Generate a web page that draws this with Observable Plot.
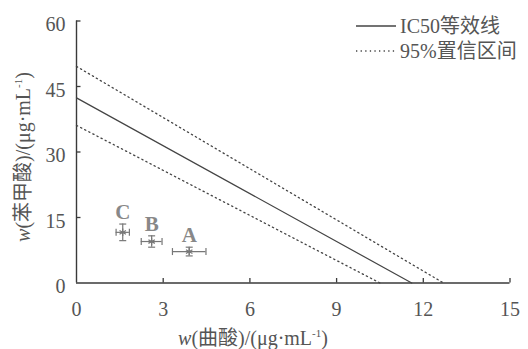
<!DOCTYPE html>
<html>
<head>
<meta charset="utf-8">
<script src="https://cdn.jsdelivr.net/npm/d3@7"></script>
<script src="https://cdn.jsdelivr.net/npm/@observablehq/plot@0.6"></script>
<style>
  html, body { margin: 0; padding: 0; background: #fff; }
  #wrap { position: relative; width: 528px; height: 349px; overflow: hidden;
          font-family: "Liberation Serif", "Times New Roman", Tinos, "DejaVu Serif", "Noto Sans CJK SC", serif; color: #555; }
  .ov { position: absolute; white-space: nowrap; font-size: 20px; line-height: 1; }
  .ov sup { font-size: 0.55em; vertical-align: 0.7em; line-height: 0; }
  #ytitle { left: 23px; top: 157px; transform: translate(-50%, -50%) rotate(-90deg); }
  #xtitle { left: 253px; top: 338px; transform: translate(-50%, -50%); }
  #legend { left: 356px; top: 13px; font-size: 20px; }
  #legend .row { display: flex; align-items: center; height: 25px; }
  #legend svg { margin-right: 4px; }
</style>
</head>
<body>
<div id="wrap">
  <div id="chart"></div>
  <div class="ov" id="ytitle"><i>w</i>(苯甲酸)/(μg·mL<sup>-1</sup>)</div>
  <div class="ov" id="xtitle"><i>w</i>(曲酸)/(μg·mL<sup>-1</sup>)</div>
  <div class="ov" id="legend"></div>
</div>
<script>
// ---- data ----
const lineNames = ["IC50等效线", "95%置信区间", "95%置信区间"];
const lineKind = ["solid", "dotted", "dotted"];
const yIntercepts = [42.4, 49.6, 36.1];   // w(苯甲酸) alone
const xIntercepts = [11.6, 12.7, 10.5];   // w(曲酸) alone

const comboLabels = ["A", "B", "C"];
const comboX = [3.9, 2.6, 1.6];
const comboXErr = [0.58, 0.36, 0.23];
const comboY = [7.2, 9.5, 11.6];
const comboYErr = [1.0, 1.3, 1.9];

const xTicks = [0, 3, 6, 9, 12, 15];
const yTicks = [0, 15, 30, 45, 60];

// ---- derived tables ----
const lines = [];
lineNames.forEach((n, i) => {
  lines.push({id: i, kind: lineKind[i], x: 0, y: yIntercepts[i]});
  lines.push({id: i, kind: lineKind[i], x: xIntercepts[i], y: 0});
});
const combos = comboLabels.map((l, i) => ({
  label: l, x: comboX[i], y: comboY[i],
  x1: comboX[i] - comboXErr[i], x2: comboX[i] + comboXErr[i],
  y1: comboY[i] - comboYErr[i], y2: comboY[i] + comboYErr[i]
}));

const W = 528, H = 349;
const mL = 76, mR = 18.5, mT = 20.5, mB = 66.5;
const tickLen = 4.5;

const rad = (size) => Math.sqrt(size / Math.PI);
const vCap = {draw(ctx, size) { const r = rad(size); ctx.moveTo(0, -r); ctx.lineTo(0, r); }};
const hCap = {draw(ctx, size) { const r = rad(size); ctx.moveTo(-r, 0); ctx.lineTo(r, 0); }};

const axisColor = "#3a3a3a";
const ptColor = "#777";
const fontStack = '"Liberation Serif", "Times New Roman", Tinos, "DejaVu Serif", "Noto Sans CJK SC", serif';

const chart = Plot.plot({
  width: W, height: H,
  marginLeft: mL, marginRight: mR, marginTop: mT, marginBottom: mB,
  x: {domain: [0, 15]},
  y: {domain: [0, 60]},
  style: {fontFamily: fontStack, fontSize: "20px", color: "#555", background: "transparent"},
  marks: [
    Plot.axisX(xTicks, {tickSize: 0, tickPadding: 19, label: null, fontSize: 20, fill: "#555", fontFamily: fontStack}),
    Plot.axisY(yTicks, {tickSize: 0, tickPadding: 11, dy: 4, label: null, fontSize: 20, fill: "#555", fontFamily: fontStack}),
    Plot.ruleY([0], {stroke: axisColor, strokeWidth: 1.4}),
    Plot.ruleX([0], {stroke: axisColor, strokeWidth: 1.4}),
    Plot.axisX(xTicks.slice(1), {tickSize: tickLen, dy: -tickLen, text: null, label: null, stroke: axisColor, strokeWidth: 1.3}),
    Plot.axisY(yTicks.slice(1), {tickSize: tickLen, dx: tickLen, text: null, label: null, stroke: axisColor, strokeWidth: 1.3}),
    Plot.line(lines.filter(d => d.kind === "solid"), {x: "x", y: "y", z: "id", stroke: "#444", strokeWidth: 1.2}),
    Plot.line(lines.filter(d => d.kind === "dotted"), {x: "x", y: "y", z: "id", stroke: "#444", strokeWidth: 1.3, strokeDasharray: "1.3,3.3"}),
    // error bars
    Plot.ruleY(combos, {y: "y", x1: "x1", x2: "x2", stroke: ptColor, strokeWidth: 1.2}),
    Plot.ruleX(combos, {x: "x", y1: "y1", y2: "y2", stroke: ptColor, strokeWidth: 1.2}),
    Plot.dot(combos, {x: "x1", y: "y", symbol: vCap, r: 3.5, stroke: ptColor, strokeWidth: 1.2}),
    Plot.dot(combos, {x: "x2", y: "y", symbol: vCap, r: 3.5, stroke: ptColor, strokeWidth: 1.2}),
    Plot.dot(combos, {x: "x", y: "y1", symbol: hCap, r: 3.5, stroke: ptColor, strokeWidth: 1.2}),
    Plot.dot(combos, {x: "x", y: "y2", symbol: hCap, r: 3.5, stroke: ptColor, strokeWidth: 1.2}),
    Plot.dot(combos, {x: "x", y: "y", symbol: "asterisk", r: 3.5, stroke: ptColor, strokeWidth: 1.2}),
    Plot.text(combos, {x: "x", y: "y2", text: "label", lineAnchor: "bottom", dy: -5, fontSize: 21, fontWeight: "bold", fill: "#888", fontFamily: fontStack})
  ]
});
document.getElementById("chart").appendChild(chart);

// legend
const legend = document.getElementById("legend");
const seen = new Set();
lineNames.forEach((n, i) => {
  if (seen.has(n)) return; seen.add(n);
  const row = document.createElement("div");
  row.className = "row";
  const dash = lineKind[i] === "dotted" ? 'stroke-dasharray="1.3,3.3"' : "";
  row.innerHTML = `<svg width="40" height="10"><line x1="0" y1="5" x2="40" y2="5" stroke="#444" stroke-width="1.3" ${dash}/></svg><span>${n}</span>`;
  legend.appendChild(row);
});
</script>
</body>
</html>
